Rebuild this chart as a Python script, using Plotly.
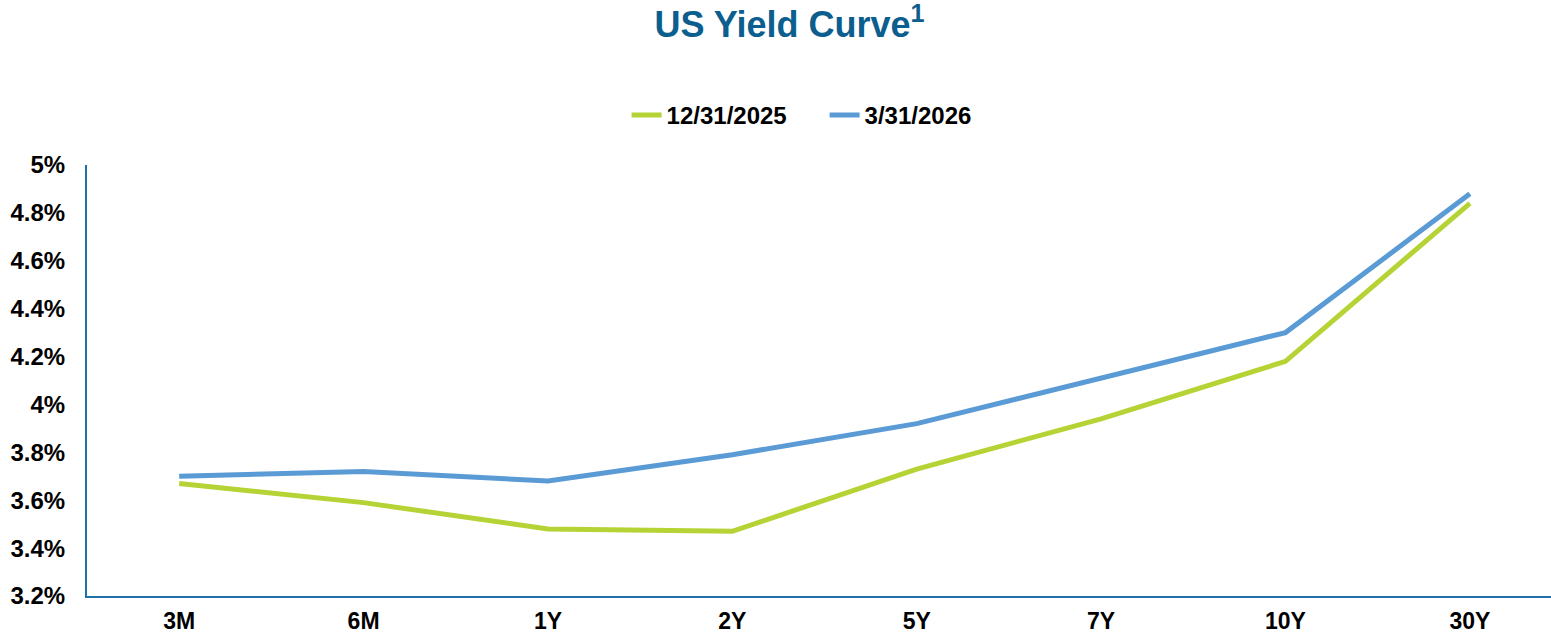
"""US yield curve comparison chart."""

import plotly.graph_objects as go

tenors = ["3M", "6M", "1Y", "2Y", "5Y", "7Y", "10Y", "30Y"]
yields_dec_2025 = [3.67, 3.59, 3.48, 3.47, 3.73, 3.94, 4.18, 4.84]
yields_mar_2026 = [3.70, 3.72, 3.68, 3.79, 3.92, 4.11, 4.30, 4.88]

FONT = "Liberation Sans, Arial, sans-serif"

fig = go.Figure()

for values, name, color in [
    (yields_dec_2025, "12/31/2025", "#B5D334"),
    (yields_mar_2026, "3/31/2026", "#5B9BD5"),
]:
    fig.add_trace(go.Scatter(
        x=tenors,
        y=values,
        mode="lines",
        name=f"<b>{name}</b>",
        line=dict(color=color, width=5),
    ))

fig.update_layout(
    width=1551,
    height=634,
    paper_bgcolor="white",
    plot_bgcolor="white",
    font=dict(family=FONT, color="black", size=24),
    title=dict(
        text="<b>US Yield Curve<sup>1</sup></b>",
        font=dict(size=36, color="#0B5E8E"),
        x=0.509, xanchor="center", xref="container",
        y=0.962, yanchor="middle", yref="container",
    ),
    legend=dict(
        orientation="h",
        x=0.404, xanchor="left", xref="container",
        y=0.818, yanchor="middle", yref="container",
        font=dict(size=24),
        entrywidth=153,
        traceorder="normal",
    ),
    margin=dict(l=87, r=0, t=165, b=38),
    xaxis=dict(
        range=[-0.5, 7.44],
        automargin=False,
        showline=True,
        linecolor="#1F6FA8",
        linewidth=2,
        showgrid=False,
        zeroline=False,
        tickfont=dict(size=23),
        tickprefix="<b>",
        ticksuffix="</b>",
        ticklabelstandoff=3,
    ),
    yaxis=dict(
        range=[3.2, 5.0],
        tick0=3.2,
        dtick=0.2,
        automargin=False,
        showline=True,
        linecolor="#1F6FA8",
        linewidth=2,
        showgrid=False,
        zeroline=False,
        tickfont=dict(size=24),
        tickprefix="<b>",
        ticksuffix="%</b>",
        ticklabelstandoff=15,
    ),
)

fig.write_html(
    "out.html",
    config={"displayModeBar": False},
    post_script="document.body.style.margin='0';document.body.style.overflow='hidden';",
)
